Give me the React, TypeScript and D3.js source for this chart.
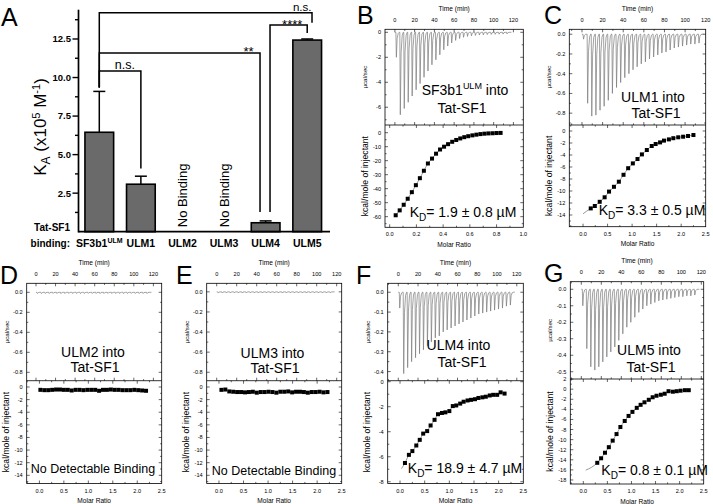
import React from 'react';
import * as d3 from 'd3';

type Pt = [number, number];

// ---------------- Panel A data ----------------
const A_CATEGORIES = ['SF3b1', 'ULM1', 'ULM2', 'ULM3', 'ULM4', 'ULM5'];
const A_CAT_SUPER = ['ULM', '', '', '', '', ''];
const A_VALUES: (number | null)[] = [6.45, 3.08, null, null, 0.58, 12.43];
const A_ERRORS: (number | null)[] = [2.65, 0.52, null, null, 0.12, 0.07];
const A_TICKS = [2.5, 5.0, 7.5, 10.0, 12.5];
const A_MINOR = [1.25, 3.75, 6.25, 8.75, 11.25, 13.75];
const A_BRACKETS = [
  { from: 'SF3b1', to: 'ULM1', level: 10.42, fromEnd: 9.35, toEnd: 4.1, label: 'n.s.' },
  { from: 'SF3b1', to: 'ULM4', level: 11.59, fromEnd: 9.35, toEnd: 1.28, label: '**' },
  { from: 'ULM4', to: 'ULM5', level: 13.4, fromEnd: 1.28, toEnd: 12.89, label: '****' },
  { from: 'SF3b1', to: 'ULM5', level: 14.2, fromEnd: 9.35, toEnd: 13.55, label: 'n.s.' },
];
// layout of brackets (px offsets from category centres)
const A_BRACKET_LAYOUT = [
  { fromDx: 0, toDx: 0, labelAt: 'ULM1', labelDx: -16, labelDy: -2, size: 12.5 },
  { fromDx: 0, toDx: -5.6, labelAt: 'ULM4', labelDx: -17, labelDy: 2.5, size: 13 },
  { fromDx: 4.4, toDx: 0, labelAt: 'ULM5', labelDx: -15, labelDy: 3.5, size: 13 },
  { fromDx: 0, toDx: 4.8, labelAt: 'ULM5', labelDx: -5, labelDy: -1.6, size: 11.5 },
];

// ---------------- ITC data ----------------
const INJ_TIMES = [1, 5, 9, 13, 17, 21, 25, 29, 33, 37, 41, 45, 49, 53, 57, 61, 65, 69, 73, 77, 81, 85, 89, 93, 97, 101, 105, 109, 113];
const TIME_TICKS = [0, 20, 40, 60, 80, 100, 120];
const TIME_MINOR = [-10, 10, 30, 50, 70, 90, 110, 130];

const B_PEAKS = [-2.0, -6.6, -6.1, -5.6, -5.1, -4.6, -4.1, -3.6, -3.1, -2.6, -2.2, -1.8, -1.4, -1.1, -0.85, -0.65, -0.5, -0.4, -0.33, -0.28, -0.25, -0.22, -0.2, -0.18, -0.17, -0.16, -0.15, -0.14, -0.13];
const C_PEAKS = [-0.05, -0.7, -0.83, -0.82, -0.77, -0.73, -0.67, -0.6, -0.54, -0.49, -0.44, -0.4, -0.36, -0.33, -0.3, -0.28, -0.25, -0.23, -0.21, -0.19, -0.18, -0.16, -0.14, -0.13, -0.12, -0.11, -0.1, -0.1, -0.09];
const D_PEAKS = [-0.012, -0.013, -0.012, -0.012, -0.011, -0.012, -0.013, -0.012, -0.011, -0.012, -0.012, -0.013, -0.012, -0.011, -0.012, -0.012, -0.013, -0.012, -0.011, -0.012, -0.012, -0.012, -0.013, -0.012, -0.011, -0.012, -0.012, -0.012, -0.012];
const E_PEAKS = [-0.01, -0.011, -0.01, -0.01, -0.009, -0.01, -0.011, -0.01, -0.009, -0.01, -0.01, -0.011, -0.01, -0.009, -0.01, -0.01, -0.011, -0.01, -0.009, -0.01, -0.01, -0.01, -0.011, -0.01, -0.009, -0.01, -0.01, -0.01, -0.01];
const F_PEAKS = [-0.08, -0.41, -0.38, -0.35, -0.33, -0.31, -0.29, -0.27, -0.25, -0.23, -0.22, -0.2, -0.19, -0.18, -0.17, -0.16, -0.15, -0.14, -0.13, -0.12, -0.11, -0.105, -0.1, -0.095, -0.09, -0.085, -0.08, -0.07, -0.065];
const G_PEAKS = [-0.1, -0.36, -0.47, -0.49, -0.47, -0.44, -0.41, -0.38, -0.35, -0.31, -0.27, -0.23, -0.2, -0.17, -0.14, -0.12, -0.1, -0.09, -0.08, -0.07, -0.065, -0.06, -0.055, -0.05, -0.045, -0.045, -0.04, -0.04, -0.035];

const B_POINTS: Pt[] = [[0.045, -59], [0.075, -55.5], [0.105, -51.5], [0.135, -47.2], [0.166, -42.5], [0.196, -37.5], [0.226, -32.5], [0.256, -27.2], [0.286, -22], [0.317, -18.5], [0.347, -15], [0.377, -12], [0.407, -10], [0.437, -8.2], [0.468, -6.5], [0.498, -5.2], [0.528, -4.1], [0.558, -3.2], [0.588, -2.5], [0.619, -1.9], [0.649, -1.4], [0.679, -1.0], [0.709, -0.7], [0.739, -0.5], [0.77, -0.4], [0.8, -0.25], [0.83, -0.15]];
const C_POINTS: Pt[] = [[0.157, -12.9], [0.24, -12.5], [0.34, -11.8], [0.44, -11.05], [0.53, -10.1], [0.63, -9.3], [0.73, -8.45], [0.825, -7.3], [0.92, -6.2], [1.015, -5.4], [1.11, -4.67], [1.2, -3.9], [1.3, -3.17], [1.4, -2.5], [1.48, -2.17], [1.57, -1.9], [1.65, -1.6], [1.75, -1.4], [1.84, -1.2], [1.94, -1.05], [2.04, -0.95], [2.14, -0.83], [2.25, -0.67]];
const D_POINTS: Pt[] = [[0.02, -0.45], [0.10, -0.5], [0.18, -0.5], [0.26, -0.45], [0.34, -0.4], [0.42, -0.4], [0.50, -0.45], [0.58, -0.45], [0.66, -0.55], [0.74, -0.45], [0.82, -0.45], [0.90, -0.5], [0.98, -0.45], [1.06, -0.45], [1.14, -0.45], [1.22, -0.6], [1.30, -0.45], [1.38, -0.45], [1.46, -0.4], [1.54, -0.45], [1.62, -0.45], [1.70, -0.5], [1.78, -0.5], [1.86, -0.5], [1.94, -0.45], [2.02, -0.5], [2.10, -0.55], [2.18, -0.6]];
const E_POINTS: Pt[] = [[0.05, -0.45], [0.13, -0.4], [0.21, -0.7], [0.29, -0.75], [0.37, -0.8], [0.45, -0.8], [0.53, -0.85], [0.61, -0.8], [0.69, -0.75], [0.77, -0.9], [0.85, -0.8], [0.93, -0.8], [1.01, -0.75], [1.09, -0.8], [1.17, -0.9], [1.25, -0.75], [1.33, -0.75], [1.41, -0.7], [1.49, -0.85], [1.57, -0.75], [1.65, -0.75], [1.73, -0.8], [1.81, -0.9], [1.89, -0.8], [1.97, -0.8], [2.05, -0.75], [2.13, -0.85], [2.21, -0.8]];
const F_POINTS: Pt[] = [[0.10, -6.5], [0.18, -5.85], [0.25, -5.55], [0.33, -5.1], [0.40, -4.65], [0.47, -4.15], [0.55, -3.95], [0.62, -3.5], [0.70, -3.05], [0.77, -2.6], [0.85, -2.5], [0.92, -2.45], [1.00, -2.35], [1.07, -1.95], [1.14, -1.9], [1.22, -1.75], [1.29, -1.6], [1.37, -1.5], [1.44, -1.45], [1.52, -1.4], [1.59, -1.3], [1.67, -1.25], [1.74, -1.2], [1.82, -1.1], [1.89, -1.05], [1.97, -1.05], [2.04, -0.85], [2.12, -0.95]];
const G_POINTS: Pt[] = [[0.29, -14.6], [0.37, -13.7], [0.45, -12.6], [0.53, -11.5], [0.61, -10.2], [0.69, -8.9], [0.77, -7.5], [0.86, -6.3], [0.94, -5.3], [1.02, -4.5], [1.11, -3.7], [1.19, -3.1], [1.27, -2.6], [1.36, -2.1], [1.44, -1.6], [1.52, -1.3], [1.61, -1.1], [1.69, -0.9], [1.77, -0.4], [1.86, -0.5], [1.94, -0.4], [2.02, -0.3], [2.11, -0.2], [2.19, -0.2]];

const C_FIT_START: Pt[] = [[0.0, -13.8]];
const F_FIT_START: Pt[] = [[0.03, -6.95]];
const G_FIT_START: Pt[] = [[0.05, -16.05], [0.17, -15.5]];

const FONT = 'Arial, "Liberation Sans", Helvetica, sans-serif';

interface PanelCfg {
  letter: string; letterX: number; letterY: number;
  frame: { left: number; right: number; top: number; mid: number; bottom: number };
  timeDomain: [number, number];
  topY: [number, number]; topTicks: number[]; topMinor: number[]; topDec: number;
  botY: [number, number]; botTicks: number[]; botMinor: number[]; botDec: number;
  ratio: [number, number]; ratioTicks: number[]; ratioMinor: number[]; ratioDec: number;
  peaks: number[]; points: Pt[]; fit: Pt[] | null;
  title: string; titleSup: string; titleX: number; titleY: number; title2X: number; title2Y: number;
  kd: string | null; nodet: boolean; bottomX: number; bottomY: number;
}

const PANELS: PanelCfg[] = [
  {
    letter: 'B', letterX: 357, letterY: 24,
    frame: { left: 385, right: 523.3, top: 29.3, mid: 125, bottom: 227.3 },
    timeDomain: [-10, 130],
    topY: [-7.42, 0.24], topTicks: [0, -2, -4, -6], topMinor: [-1, -3, -5, -7], topDec: 0,
    botY: [-67.6, 5.5], botTicks: [0, -10, -20, -30, -40, -50, -60], botMinor: [-5, -15, -25, -35, -45, -55, -65], botDec: 0,
    ratio: [-0.035, 1.0], ratioTicks: [0, 0.2, 0.4, 0.6, 0.8, 1.0], ratioMinor: [0.1, 0.3, 0.5, 0.7, 0.9], ratioDec: 1,
    peaks: B_PEAKS, points: B_POINTS, fit: B_POINTS,
    title: 'SF3b1', titleSup: 'ULM', titleX: 465, titleY: 95, title2X: 462, title2Y: 112.5,
    kd: '= 1.9 ± 0.8 µM', nodet: false, bottomX: 463, bottomY: 217,
  },
  {
    letter: 'C', letterX: 544, letterY: 24,
    frame: { left: 569.3, right: 705.7, top: 29.3, mid: 125, bottom: 226.7 },
    timeDomain: [-12.3, 120],
    topY: [-0.92, 0.05], topTicks: [0, -0.2, -0.4, -0.6, -0.8], topMinor: [-0.1, -0.3, -0.5, -0.7, -0.9], topDec: 1,
    botY: [-15.95, 1], botTicks: [0, -2, -4, -6, -8, -10, -12, -14], botMinor: [-1, -3, -5, -7, -9, -11, -13, -15], botDec: 0,
    ratio: [-0.28, 2.5], ratioTicks: [0, 0.5, 1.0, 1.5, 2.0, 2.5], ratioMinor: [-0.25, 0.25, 0.75, 1.25, 1.75, 2.25], ratioDec: 1,
    peaks: C_PEAKS, points: C_POINTS, fit: [...C_FIT_START, ...C_POINTS],
    title: 'ULM1', titleSup: '', titleX: 653, titleY: 101.5, title2X: 656, title2Y: 118,
    kd: '= 3.3 ± 0.5 µM', nodet: false, bottomX: 652, bottomY: 215,
  },
  {
    letter: 'D', letterX: 0, letterY: 284,
    frame: { left: 26.7, right: 161.7, top: 283.3, mid: 380.7, bottom: 483.5 },
    timeDomain: [-9.5, 128.5],
    topY: [-0.884, 0.09], topTicks: [0, -0.2, -0.4, -0.6, -0.8], topMinor: [-0.1, -0.3, -0.5, -0.7], topDec: 1,
    botY: [-15.3, 1.0], botTicks: [0, -2, -4, -6, -8, -10, -12, -14], botMinor: [-1, -3, -5, -7, -9, -11, -13, -15], botDec: 0,
    ratio: [-0.26, 2.5], ratioTicks: [0, 0.5, 1.0, 1.5, 2.0, 2.5], ratioMinor: [-0.25, 0.25, 0.75, 1.25, 1.75, 2.25], ratioDec: 1,
    peaks: D_PEAKS, points: D_POINTS, fit: null,
    title: 'ULM2', titleSup: '', titleX: 93, titleY: 356.5, title2X: 95, title2Y: 372,
    kd: null, nodet: true, bottomX: 93, bottomY: 473,
  },
  {
    letter: 'E', letterX: 176, letterY: 284,
    frame: { left: 206.7, right: 341.7, top: 283.3, mid: 380.7, bottom: 483.5 },
    timeDomain: [-10, 125],
    topY: [-0.884, 0.085], topTicks: [0, -0.2, -0.4, -0.6, -0.8], topMinor: [-0.1, -0.3, -0.5, -0.7], topDec: 1,
    botY: [-15.3, 1.0], botTicks: [0, -2, -4, -6, -8, -10, -12, -14], botMinor: [-1, -3, -5, -7, -9, -11, -13, -15], botDec: 0,
    ratio: [-0.25, 2.5], ratioTicks: [0, 0.5, 1.0, 1.5, 2.0, 2.5], ratioMinor: [0.25, 0.75, 1.25, 1.75, 2.25], ratioDec: 1,
    peaks: E_PEAKS, points: E_POINTS, fit: null,
    title: 'ULM3', titleSup: '', titleX: 272.5, titleY: 358, title2X: 275, title2Y: 373,
    kd: null, nodet: true, bottomX: 274, bottomY: 474.5,
  },
  {
    letter: 'F', letterX: 356, letterY: 284,
    frame: { left: 387.7, right: 523.3, top: 283.3, mid: 380.7, bottom: 483.5 },
    timeDomain: [-10.7, 126.6],
    topY: [-0.446, 0.045], topTicks: [0, -0.1, -0.2, -0.3, -0.4], topMinor: [-0.05, -0.15, -0.25, -0.35], topDec: 1,
    botY: [-8.14, 0.08], botTicks: [0, -2, -4, -6, -8], botMinor: [-1, -3, -5, -7], botDec: 0,
    ratio: [-0.25, 2.5], ratioTicks: [0, 0.5, 1.0, 1.5, 2.0, 2.5], ratioMinor: [0.25, 0.75, 1.25, 1.75, 2.25], ratioDec: 1,
    peaks: F_PEAKS, points: F_POINTS, fit: [...F_FIT_START, ...F_POINTS],
    title: 'ULM4', titleSup: '', titleX: 458.5, titleY: 350, title2X: 462, title2Y: 366.5,
    kd: '= 18.9 ± 4.7 µM', nodet: false, bottomX: 465, bottomY: 473,
  },
  {
    letter: 'G', letterX: 544, letterY: 282,
    frame: { left: 570.3, right: 703.7, top: 281.7, mid: 379, bottom: 484 },
    timeDomain: [-11, 122.4],
    topY: [-0.544, 0.046], topTicks: [0, -0.1, -0.2, -0.3, -0.4, -0.5], topMinor: [-0.05, -0.15, -0.25, -0.35, -0.45], topDec: 1,
    botY: [-18.8, 2.02], botTicks: [2, 0, -2, -4, -6, -8, -10, -12, -14, -16, -18], botMinor: [1, -1, -3, -5, -7, -9, -11, -13, -15, -17], botDec: 0,
    ratio: [-0.27, 2.5], ratioTicks: [0, 0.5, 1.0, 1.5, 2.0, 2.5], ratioMinor: [-0.25, 0.25, 0.75, 1.25, 1.75, 2.25], ratioDec: 1,
    peaks: G_PEAKS, points: G_POINTS, fit: [...G_FIT_START, ...G_POINTS],
    title: 'ULM5', titleSup: '', titleX: 649, titleY: 355, title2X: 651, title2Y: 372,
    kd: '= 0.8 ± 0.1 µM', nodet: false, bottomX: 654.7, bottomY: 475,
  },
];

function within(v: number, dom: [number, number]) {
  const lo = Math.min(dom[0], dom[1]);
  const hi = Math.max(dom[0], dom[1]);
  return v > lo + 1e-9 && v < hi - 1e-9;
}
function withinIncl(v: number, dom: [number, number]) {
  const lo = Math.min(dom[0], dom[1]);
  const hi = Math.max(dom[0], dom[1]);
  return v >= lo - 1e-6 && v <= hi + 1e-6;
}

function ITCPanel({ p }: { p: PanelCfg }) {
  const f = p.frame;
  const tx = d3.scaleLinear().domain(p.timeDomain).range([f.left, f.right]);
  const ty = d3.scaleLinear().domain(p.topY).range([f.mid, f.top]);
  const mx = d3.scaleLinear().domain(p.ratio).range([f.left, f.right]);
  const my = d3.scaleLinear().domain(p.botY).range([f.bottom, f.mid]);
  const MAJ = 3, MIN = 1.6;
  const tickStyle = { stroke: '#000', strokeWidth: 0.6 };
  const ticks: React.ReactElement[] = [];
  let k = 0;
  const hTicks = (scale: any, vals: number[], len: number, yTop: number, yBot: number, dom: [number, number]) => {
    vals.filter(v => within(v, dom)).forEach(v => {
      const x = scale(v);
      ticks.push(<line key={k++} x1={x} x2={x} y1={yTop} y2={yTop + len} {...tickStyle} />);
      ticks.push(<line key={k++} x1={x} x2={x} y1={yBot} y2={yBot - len} {...tickStyle} />);
    });
  };
  const vTicks = (scale: any, vals: number[], len: number, dom: [number, number]) => {
    vals.filter(v => within(v, dom)).forEach(v => {
      const y = scale(v);
      ticks.push(<line key={k++} x1={f.left} x2={f.left + len} y1={y} y2={y} {...tickStyle} />);
      ticks.push(<line key={k++} x1={f.right} x2={f.right - len} y1={y} y2={y} {...tickStyle} />);
    });
  };
  hTicks(tx, TIME_TICKS, MAJ, f.top, f.mid, p.timeDomain);
  hTicks(tx, TIME_MINOR, MIN, f.top, f.mid, p.timeDomain);
  hTicks(mx, p.ratioTicks, MAJ, f.mid, f.bottom, p.ratio);
  hTicks(mx, p.ratioMinor, MIN, f.mid, f.bottom, p.ratio);
  vTicks(ty, p.topTicks, MAJ, p.topY);
  vTicks(ty, p.topMinor, MIN, p.topY);
  vTicks(my, p.botTicks, MAJ, p.botY);
  vTicks(my, p.botMinor, MIN, p.botY);

  const raw: Pt[] = [[INJ_TIMES[0] - 1, 0]];
  INJ_TIMES.forEach((t, i) => {
    const pk = p.peaks[i];
    raw.push([t, 0], [t + 0.5, pk], [t + 1.3, pk * 0.25], [t + 2.4, pk * 0.04], [t + 3.4, 0]);
  });
  raw.push([INJ_TIMES[INJ_TIMES.length - 1] + 5, 0]);
  const rawLine = d3.line<Pt>().x(d => tx(d[0])).y(d => ty(d[1]));
  const fitLine = d3.line<Pt>().x(d => mx(d[0])).y(d => my(d[1])).curve(d3.curveMonotoneX);

  const tickFont = 5.6;
  const labelFont = 6.6;
  return (
    <g fontFamily={FONT}>
      <text x={p.letterX} y={p.letterY} fontSize={25}>{p.letter}</text>
      <rect x={f.left} y={f.top} width={f.right - f.left} height={f.bottom - f.top} fill="none" stroke="#000" strokeWidth={0.8} />
      <line x1={f.left} x2={f.right} y1={f.mid} y2={f.mid} stroke="#000" strokeWidth={0.8} />
      {ticks}
      <path d={rawLine(raw) || ''} fill="none" stroke="#7a7a7a" strokeWidth={0.7} />
      {p.fit && <path d={fitLine(p.fit) || ''} fill="none" stroke="#555" strokeWidth={0.6} />}
      {p.points.map((d, i) => (
        <rect key={i} x={mx(d[0]) - 2} y={my(d[1]) - 2} width={4} height={4} fill="#000" />
      ))}
      {TIME_TICKS.filter(v => withinIncl(v, p.timeDomain)).map(v => (
        <text key={'t' + v} x={tx(v)} y={f.top - 7.5} fontSize={tickFont} textAnchor="middle">{String(v)}</text>
      ))}
      <text x={(f.left + f.right) / 2} y={f.top - 18.5} fontSize={labelFont} textAnchor="middle">Time (min)</text>
      {p.ratioTicks.filter(v => withinIncl(v, p.ratio)).map(v => (
        <text key={'r' + v} x={mx(v)} y={f.bottom + 9} fontSize={tickFont} textAnchor="middle">{v.toFixed(p.ratioDec)}</text>
      ))}
      <text x={(f.left + f.right) / 2} y={f.bottom + 19.5} fontSize={labelFont} textAnchor="middle">Molar Ratio</text>
      {p.topTicks.filter(v => withinIncl(v, p.topY)).map(v => (
        <text key={'y' + v} x={f.left - 4} y={ty(v) + 2} fontSize={tickFont} textAnchor="end">{v.toFixed(p.topDec)}</text>
      ))}
      {p.botTicks.filter(v => withinIncl(v, p.botY)).map(v => (
        <text key={'b' + v} x={f.left - 4} y={my(v) + 2} fontSize={tickFont} textAnchor="end">{v.toFixed(p.botDec)}</text>
      ))}
      <text transform={`translate(${f.left - 18},${(f.top + f.mid) / 2}) rotate(-90)`} fontSize={6.2} textAnchor="middle">µcal/sec</text>
      <text transform={`translate(${f.left - 17.5},${(f.mid + f.bottom) / 2}) rotate(-90)`} fontSize={8.6} textAnchor="middle">kcal/mole of injectant</text>
      <text x={p.titleX} y={p.titleY} fontSize={14} textAnchor="middle">
        {p.title}
        {p.titleSup && <tspan fontSize={9} dy={-6}>{p.titleSup}</tspan>}
        {p.titleSup ? <tspan dy={6}> into</tspan> : <tspan> into</tspan>}
      </text>
      <text x={p.title2X} y={p.title2Y} fontSize={14} textAnchor="middle">Tat-SF1</text>
      {p.kd && (
        <text x={p.bottomX} y={p.bottomY} fontSize={14} textAnchor="middle">
          K<tspan fontSize={10} dy={4}>D</tspan><tspan dy={-4}>{p.kd}</tspan>
        </text>
      )}
      {p.nodet && (
        <text x={p.bottomX} y={p.bottomY} fontSize={12.5} textAnchor="middle">No Detectable Binding</text>
      )}
    </g>
  );
}

function PanelA() {
  const y = d3.scaleLinear().domain([0, 14.4]).range([231.7, 9.7]);
  const x = d3.scaleBand<string>().domain(A_CATEGORIES).range([78.5, 328]).paddingInner(0.31).paddingOuter(0.155);
  const bw = x.bandwidth();
  const cx = (c: string) => (x(c) as number) + bw / 2;
  const axisX = 78.5;
  const capW = 12;
  return (
    <g fontFamily={FONT}>
      <text x={1} y={26} fontSize={25}>A</text>
      {A_CATEGORIES.map((c, i) => {
        const v = A_VALUES[i];
        if (v == null) return null;
        const e = A_ERRORS[i] as number;
        return (
          <g key={c}>
            <line x1={cx(c)} x2={cx(c)} y1={y(v)} y2={y(v + e)} stroke="#000" strokeWidth={1.5} />
            <line x1={cx(c) - capW / 2} x2={cx(c) + capW / 2} y1={y(v + e)} y2={y(v + e)} stroke="#000" strokeWidth={1.5} />
            <rect x={x(c)} y={y(v)} width={bw} height={y(0) - y(v)} fill="#6a6a6a" stroke="#000" strokeWidth={1.6} />
          </g>
        );
      })}
      {A_CATEGORIES.map((c, i) => A_VALUES[i] == null ? (
        <text key={'nb' + c} transform={`translate(${cx(c) + 4.8},${y(0) - 4.5}) rotate(-90)`} fontSize={13}>No Binding</text>
      ) : null)}
      <line x1={axisX} x2={axisX} y1={y(14.4)} y2={y(0) + 0.8} stroke="#000" strokeWidth={1.7} />
      <line x1={axisX} x2={330} y1={y(0)} y2={y(0)} stroke="#000" strokeWidth={1.7} />
      {A_TICKS.map(t => (
        <g key={'t' + t}>
          <line x1={axisX - 6} x2={axisX} y1={y(t)} y2={y(t)} stroke="#000" strokeWidth={1.4} />
          <text x={axisX - 7.5} y={y(t) + 3.4} fontSize={9.5} fontWeight="bold" textAnchor="end">{t.toFixed(1)}</text>
        </g>
      ))}
      {A_MINOR.map(t => (
        <line key={'m' + t} x1={axisX - 3.5} x2={axisX} y1={y(t)} y2={y(t)} stroke="#000" strokeWidth={1.4} />
      ))}
      <text transform={`translate(46,127) rotate(-90)`} fontSize={17} textAnchor="middle">
        K<tspan fontSize={12} dy={4}>A</tspan><tspan dy={-4}> (x10</tspan><tspan fontSize={11} dy={-6}>5</tspan><tspan dy={6}> M</tspan><tspan fontSize={11} dy={-6}>-1</tspan><tspan dy={6}>)</tspan>
      </text>
      {A_BRACKETS.map((b, i) => {
        const L = A_BRACKET_LAYOUT[i];
        const x1 = cx(b.from) + L.fromDx;
        const x2 = cx(b.to) + L.toDx;
        const yl = y(b.level);
        const d = `M${x1},${y(b.fromEnd)}V${yl}H${x2}V${y(b.toEnd)}`;
        return (
          <g key={'br' + i}>
            <path d={d} fill="none" stroke="#000" strokeWidth={1.5} />
            <text x={cx(L.labelAt) + L.labelDx} y={yl + L.labelDy} fontSize={L.size} textAnchor="middle">{b.label}</text>
          </g>
        );
      })}
      <text x={70} y={231} fontSize={10} fontWeight="bold" textAnchor="end">Tat-SF1</text>
      <text x={70} y={247} fontSize={10} fontWeight="bold" textAnchor="end">binding:</text>
      {A_CATEGORIES.map((c, i) => (
        <text key={'c' + c} x={cx(c)} y={247} fontSize={10.5} fontWeight="bold" textAnchor="middle">
          {c}
          {A_CAT_SUPER[i] && <tspan fontSize={7} dy={-4}>{A_CAT_SUPER[i]}</tspan>}
        </text>
      ))}
    </g>
  );
}

export default function App() {
  return (
    <svg width={713} height={504} viewBox="0 0 713 504" style={{ position: 'absolute', left: 0, top: 0, background: '#fff' }}>
      <rect x={0} y={0} width={713} height={504} fill="#fff" />
      <PanelA />
      {PANELS.map(p => <ITCPanel key={p.letter} p={p} />)}
    </svg>
  );
}
